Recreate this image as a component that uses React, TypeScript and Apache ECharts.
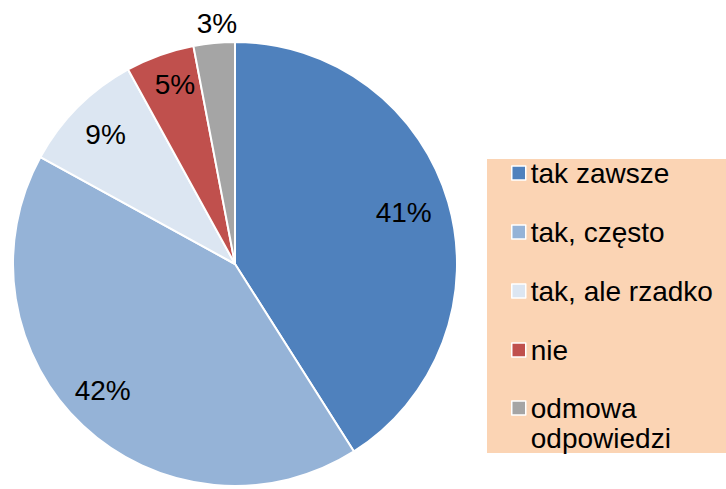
import React, { useEffect, useRef } from "react";
import * as echarts from "echarts";

const categories = ["tak zawsze", "tak, często", "tak, ale rzadko", "nie", "odmowa\nodpowiedzi"];
const values = [41, 42, 9, 5, 3];
const colors = ["#4F81BD", "#95B3D7", "#DCE6F2", "#C0504D", "#A5A5A5"];
const outsideLabelIndex = 4;

const FONT = "Liberation Sans";
const FS = 28;

// small nudges of the inside labels (Excel best-fit placement)
const labelNudge: Record<number, { dx: number; dy: number }> = {
  0: { dx: -7, dy: 0 },
  1: { dx: -7, dy: -7 },
  3: { dx: 2, dy: -7 },
};

export default function App() {
  const ref = useRef<HTMLDivElement>(null);
  useEffect(() => {
    document.body.style.margin = "0";
    const chart = echarts.init(ref.current!, null, { renderer: "svg" });
    const center = [235, 264];
    const mainData = categories.map((name, i) => ({
      name,
      value: values[i],
      itemStyle: { color: colors[i] },
      label:
        i === outsideLabelIndex
          ? { show: true, position: "outside", distanceToLabelLine: -25 }
          : { show: false },
    }));
    const labelData = categories.map((name, i) => ({
      name,
      value: values[i],
      label: { show: i !== outsideLabelIndex },
    }));
    const legendCommon = {
      orient: "vertical",
      left: 511,
      padding: 0,
      itemGap: 29,
      itemWidth: 14,
      itemHeight: 14,
      icon: "rect",
      height: 460,
      itemStyle: { borderColor: "#ffffff", borderWidth: 1.5 },
      textStyle: { fontFamily: FONT, fontSize: FS, color: "#000", lineHeight: 30 },
      selectedMode: false,
    };
    chart.setOption({
      animation: false,
      graphic: [
        {
          type: "rect",
          z: 0,
          shape: { x: 487, y: 159, width: 245, height: 294 },
          style: { fill: "#FBD4B4" },
        },
      ],
      legend: [
        {
          ...legendCommon,
          top: 158,
          data: categories.slice(0, outsideLabelIndex),
        },
        {
          ...legendCommon,
          top: 363,
          formatter: (name: string) => "\n" + name,
          data: [categories[outsideLabelIndex]],
        },
      ],
      series: [
        {
          type: "pie",
          center,
          radius: [0, 222],
          startAngle: 90,
          clockwise: true,
          avoidLabelOverlap: false,
          itemStyle: { borderColor: "#ffffff", borderWidth: 2 },
          label: {
            formatter: "{c}%",
            fontFamily: FONT,
            fontSize: FS,
            color: "#000",
          },
          labelLine: { show: false, length: 20, length2: 0 },
          emphasis: { disabled: true },
          data: mainData,
        },
        {
          type: "pie",
          center,
          radius: [144, 216],
          startAngle: 90,
          clockwise: true,
          silent: true,
          legendHoverLink: false,
          itemStyle: { color: "transparent", borderWidth: 0 },
          label: {
            position: "inside",
            formatter: "{c}%",
            fontFamily: FONT,
            fontSize: FS,
            color: "#000",
          },
          labelLayout: (p: any) => labelNudge[p.dataIndex] || {},
          labelLine: { show: false },
          emphasis: { disabled: true },
          data: labelData,
        },
      ],
    });
    return () => chart.dispose();
  }, []);
  return <div ref={ref} style={{ width: 726, height: 489 }} />;
}
